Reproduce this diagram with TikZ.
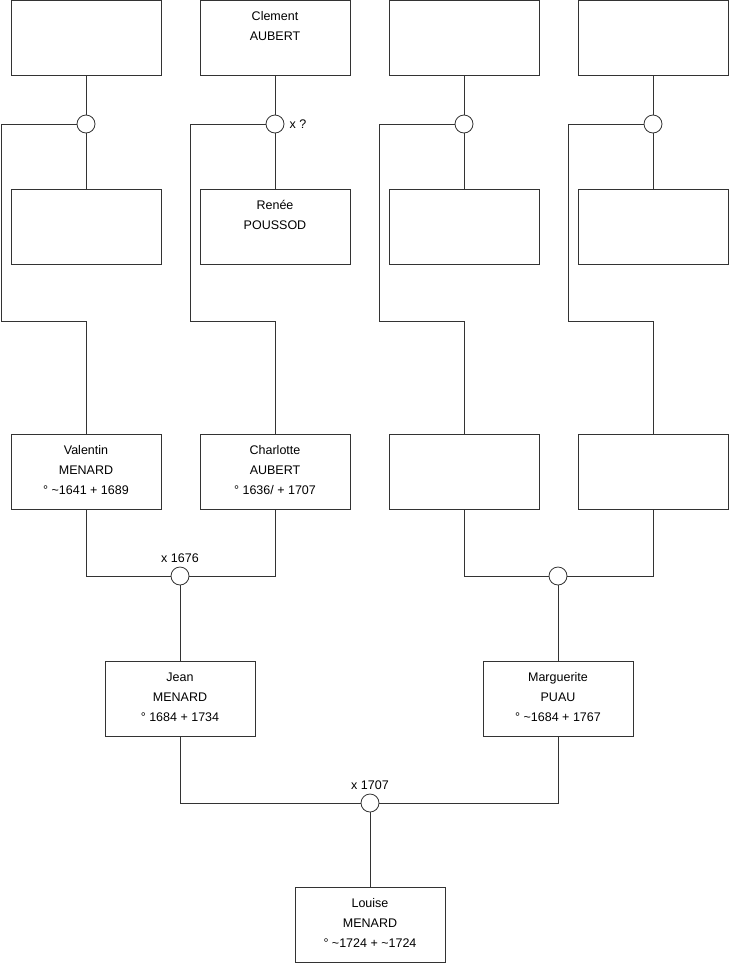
\documentclass[tikz,border=0pt]{standalone}
\usepackage{fontspec}
\setmainfont{Liberation Sans}
\usetikzlibrary{positioning}

\tikzset{
  person/.style = {draw = black!80, line width = 0.8pt, minimum width = 150pt,
    minimum height = 75pt, inner sep = 0pt, fill = white},
  union/.style = {draw = black!80, line width = 0.8pt, circle, minimum size = 18pt,
    inner sep = 0pt, fill = white},
  link/.style = {draw = black!80, line width = 0.8pt},
  note/.style = {inner sep = 1pt, font = \fontsize{12.5}{15}\selectfont}
}
\newcommand{\who}[1]{\parbox[c][75pt][t]{150pt}{\fontsize{12.5}{20}\selectfont
  \centering\rule{0pt}{19.5pt}#1\par}}

\begin{document}
\begin{tikzpicture}[x = 1pt, y = -1pt]
	\useasboundingbox (0,0) rectangle (740,975);
	% connectors first, boxes on top
	\node[person] (pa) at (86,38) {};
	\node[person] (pb) at (275,38) {\who{Clement\\AUBERT}};
	\node[person] (pc) at (464,38) {};
	\node[person] (pd) at (653,38) {};
	\node[person] (ma) at (86,227) {};
	\node[person] (mb) at (275,227) {\who{Ren\'ee\\POUSSOD}};
	\node[person] (mc) at (464,227) {};
	\node[person] (md) at (653,227) {};
	\node[union] (ua) at (86,124) {};
	\node[union] (ub) at (275,124) {};
	\node[union] (uc) at (464,124) {};
	\node[union] (ud) at (653,124) {};
	\node[note, right = 4pt of ub] (ubx) {x ?};
	\node[person] (valentin) at (86,472) {\who{Valentin\\MENARD\\\textdegree{} \textasciitilde1641 + 1689}};
	\node[person] (charlotte) at (275,472) {\who{Charlotte\\AUBERT\\\textdegree{} 1636/ + 1707}};
	\node[person] (cc) at (464,472) {};
	\node[person] (cd) at (653,472) {};
	\coordinate (ka) at (1,321);
	\coordinate (kb) at (190,321);
	\coordinate (kc) at (379,321);
	\coordinate (kd) at (568,321);
	\draw[link] (pa) -- (ua); \draw[link] (ua) -- (ma);
	\draw[link] (pb) -- (ub); \draw[link] (ub) -- (mb);
	\draw[link] (pc) -- (uc); \draw[link] (uc) -- (mc);
	\draw[link] (pd) -- (ud); \draw[link] (ud) -- (md);
	\draw[link] (ua.west) -| (ka) -| (valentin.north);
	\draw[link] (ub.west) -| (kb) -| (charlotte.north);
	\draw[link] (uc.west) -| (kc) -| (cc.north);
	\draw[link] (ud.west) -| (kd) -| (cd.north);
	\node[union] (ue) at (180,576) {};
	\node[union] (uf) at (558,576) {};
	\node[note, above = 3pt of ue] (uex) {x 1676};
	\draw[link] (valentin.south) |- (ue.west);
	\draw[link] (charlotte.south) |- (ue.east);
	\draw[link] (cc.south) |- (uf.west);
	\draw[link] (cd.south) |- (uf.east);
	\node[person] (jean) at (180,699) {\who{Jean\\MENARD\\\textdegree{} 1684 + 1734}};
	\node[person] (marguerite) at (558,699) {\who{Marguerite\\PUAU\\\textdegree{} \textasciitilde1684 + 1767}};
	\draw[link] (ue) -- (jean);
	\draw[link] (uf) -- (marguerite);
	\node[union] (ug) at (370,803) {};
	\node[note, above = 3pt of ug] (ugx) {x 1707};
	\draw[link] (jean.south) |- (ug.west);
	\draw[link] (marguerite.south) |- (ug.east);
	\node[person] (louise) at (370,925) {\who{Louise\\MENARD\\\textdegree{} \textasciitilde1724 + \textasciitilde1724}};
	\draw[link] (ug) -- (louise);
\end{tikzpicture}
\end{document}
